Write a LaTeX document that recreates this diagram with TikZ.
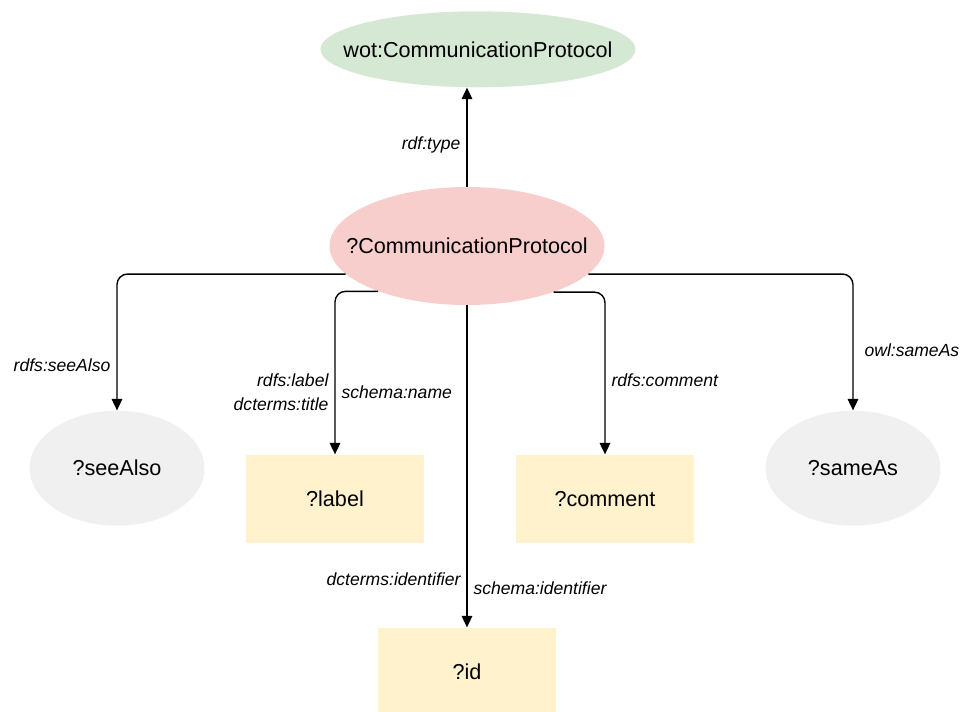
\documentclass[tikz,border=0pt]{standalone}
\usepackage{fontspec}
\setmainfont{Liberation Sans}
\usetikzlibrary{shapes.geometric,positioning,arrows.meta}
\definecolor{classgreen}{HTML}{D5E8D4}
\definecolor{varpink}{HTML}{F8CECC}
\definecolor{optgray}{HTML}{F0F0F0}
\definecolor{lityellow}{HTML}{FFF2CC}
% text that should not widen its node
\newcommand{\centred}[1]{\makebox[0pt]{#1}}
\tikzset{every class/.style={ellipse, fill=classgreen, inner sep=0pt}}
\tikzset{every var/.style={ellipse, fill=varpink, inner sep=0pt}}
\tikzset{every optvar/.style={ellipse, fill=optgray}}
\tikzset{every literal/.style={rectangle, fill=lityellow}}
\tikzset{
  class/.style={every class, minimum width=6.3cm, minimum height=1.52cm, font=\fontsize{12.3}{14}\selectfont},
  var/.style={every var, minimum width=5.5cm, minimum height=2.36cm, font=\fontsize{12.3}{14}\selectfont},
  optvar/.style={every optvar, minimum width=3.5cm, minimum height=2.3cm, font=\fontsize{12.3}{14}\selectfont},
  literal/.style={every literal, minimum width=3.56cm, minimum height=1.76cm, font=\fontsize{12.3}{14}\selectfont},
  prop/.style={-{Triangle[length=6.5pt,width=6pt]}, line width=0.8pt, rounded corners=6pt},
  predicate/.style={font=\fontsize{10}{13.5}\selectfont\itshape}
}

\begin{document}
\begin{tikzpicture}[auto,node distance=1cm]
  \useasboundingbox (-9.34,-9.30) rectangle (9.96,4.92);
  % The protocol variable in the middle, everything hangs off it
  \node[var] (proto) at (0,0) {\centred{?CommunicationProtocol}};
  \node[class] (wot) [above = 1.98cm of proto, xshift=0.22cm] {\centred{wot:CommunicationProtocol}};

  % optional links, left and right
  \node[optvar] (seealso) [below = 2.1cm of proto, xshift=-7cm] {?seeAlso};
  \node[optvar] (sameas) [below = 2.1cm of proto, xshift=7.72cm] {?sameAs};

  % literals
  \node[literal] (label) [below = 2.98cm of proto, xshift=-2.64cm] {?label};
  \node[literal] (comment) [below = 2.98cm of proto, xshift=2.76cm] {?comment};
  \node[literal] (id) [below = 6.44cm of proto] {?id};

  \draw[prop] (proto.north) -- (proto.north |- wot.south)
    node[predicate, left, pos=0.42] {rdf:type};
  \draw[prop] (proto.193) -| (seealso.north)
    node[predicate, left, pos=0.835] {rdfs:seeAlso};
  \draw[prop] (proto.207) -| (label.north)
    node[predicate, left, align=right, pos=0.81] {rdfs:label\\dcterms:title}
    node[predicate, right, pos=0.81] {schema:name};
  \draw[prop] (proto.south) -- (id.north)
    node[predicate, left, pos=0.85] {dcterms:identifier}
    node[predicate, right, pos=0.88] {schema:identifier};
  \draw[prop] (proto.-28) -| (comment.north)
    node[predicate, right, pos=0.77] {rdfs:comment};
  \draw[prop] (proto.-13) -| (sameas.north)
    node[predicate, right, pos=0.78, xshift=0.1cm] {owl:sameAs};
  %\draw[prop] (proto) -- (wot);
\end{tikzpicture}
\end{document}
